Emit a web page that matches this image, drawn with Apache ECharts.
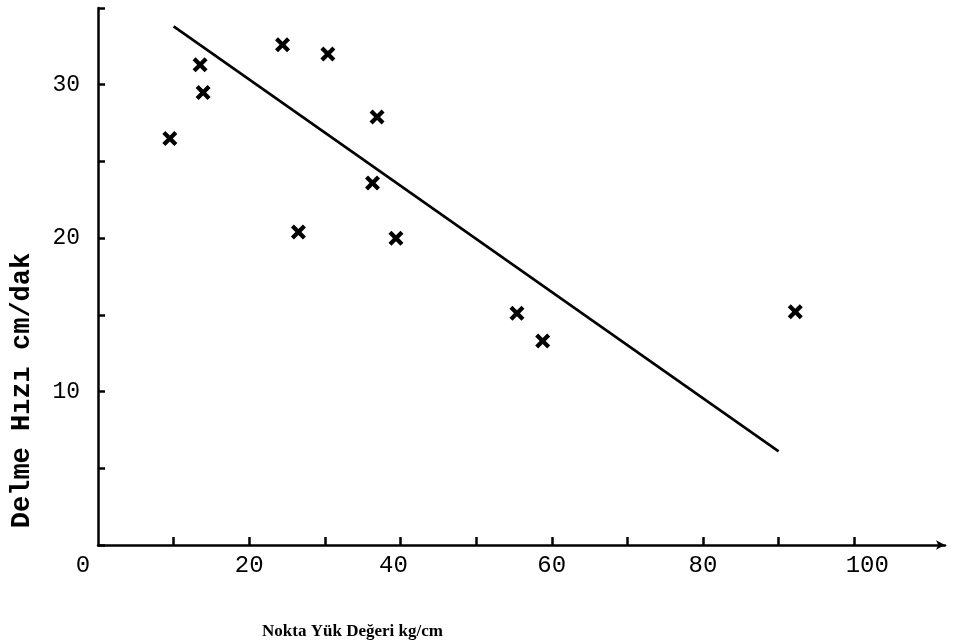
<!DOCTYPE html>
<html>
<head>
<meta charset="utf-8">
<script src="https://cdn.jsdelivr.net/npm/echarts@6/dist/echarts.min.js"></script>
<style>
html,body{margin:0;padding:0;background:#fff;}
#chart{width:956px;height:644px;}
</style>
</head>
<body>
<div id="chart"></div>
<script>
// Data
var xValues = [9.5, 13.5, 13.9, 24.4, 30.4, 36.9, 36.3, 26.5, 39.4, 55.4, 58.8, 92.2];
var yValues = [26.5, 31.3, 29.5, 32.6, 32.0, 27.9, 23.6, 20.4, 20.0, 15.1, 13.3, 15.2];
var fitX = [10, 90];
var fitY = [33.8, 6.1];
var xTickValues = [10, 20, 30, 40, 50, 60, 70, 80, 90, 100];
var xLabelValues = [0, 20, 40, 60, 80, 100];
var yLabelValues = [10, 20, 30];
var xTitle = 'Nokta Yük Değeri kg/cm';
var yTitle = 'Delme Hızı cm/dak';

var scatterData = xValues.map(function (x, i) { return [x, yValues[i]]; });
var lineData = fitX.map(function (x, i) { return [x, fitY[i]]; });

var crossPath = 'path://M0,2 L2,0 L5,3 L8,0 L10,2 L7,5 L10,8 L8,10 L5,7 L2,10 L0,8 L3,5 Z';

var chart = echarts.init(document.getElementById('chart'), null, {renderer: 'canvas'});
chart.setOption({
  animation: false,
  backgroundColor: '#ffffff',
  grid: {left: 98, right: 11, top: 8, bottom: 99, containLabel: false, outerBoundsMode: 'none'},
  xAxis: {
    type: 'value',
    min: 0,
    max: 112,
    interval: 10,
    splitLine: {show: false},
    axisLine: {show: true, onZero: false, symbol: ['none', 'arrow'], symbolSize: [7, 9],
      lineStyle: {color: '#000', width: 2.5}},
    axisTick: {show: true, inside: true, length: 8, customValues: xTickValues,
      lineStyle: {color: '#000', width: 2.5}},
    axisLabel: {
      show: true, customValues: xLabelValues, margin: 9,
      fontFamily: 'Liberation Mono', fontSize: 24, color: '#000',
      formatter: function (v) {
        if (v === 0) return '{l|0}';
        if (v === 40) return '{m|40}';
        if (v === 100) return '{r|100}';
        return String(v);
      },
      rich: {
        l: {padding: [0, 30, 0, 0], fontFamily: 'Liberation Mono', fontSize: 24, color: '#000'},
        m: {padding: [0, 14, 0, 0], fontFamily: 'Liberation Mono', fontSize: 24, color: '#000'},
        r: {padding: [0, 0, 0, 26], fontFamily: 'Liberation Mono', fontSize: 24, color: '#000'}
      }
    },
    name: xTitle,
    nameLocation: 'middle',
    nameGap: 78,
    nameTextStyle: {fontFamily: 'Liberation Serif', fontWeight: 'bold', fontSize: 17, color: '#000',
      padding: [0, 338, 0, 0]}
  },
  yAxis: {
    type: 'value',
    min: 0,
    max: 35,
    interval: 5,
    splitLine: {show: false},
    axisLine: {show: true, onZero: false, lineStyle: {color: '#000', width: 2.5}},
    axisTick: {show: true, inside: true, length: 7, lineStyle: {color: '#000', width: 2.5}},
    axisLabel: {
      show: true, customValues: yLabelValues, margin: 18,
      fontFamily: 'Liberation Mono', fontSize: 23, color: '#000',
      padding: [10, 0, 0, 0]
    },
    name: yTitle,
    nameLocation: 'middle',
    nameRotate: 90,
    nameGap: 62,
    nameTextStyle: {fontFamily: 'Liberation Mono', fontWeight: 'bold', fontSize: 27, color: '#000',
      padding: [0, 228, 0, 0]}
  },
  series: [
    {
      type: 'line',
      data: lineData,
      symbol: 'none',
      lineStyle: {color: '#000', width: 2.6},
      silent: true
    },
    {
      type: 'scatter',
      data: scatterData,
      symbol: crossPath,
      symbolSize: 15,
      itemStyle: {color: '#000', opacity: 1}
    }
  ]
});
</script>
</body>
</html>
